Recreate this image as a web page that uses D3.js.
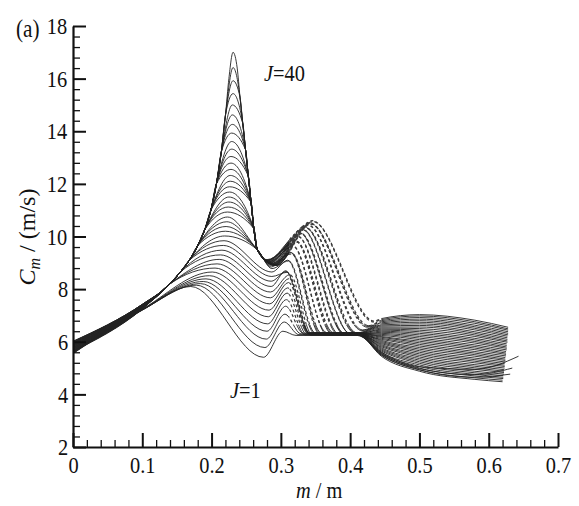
<!DOCTYPE html>
<html>
<head>
<meta charset="utf-8">
<script src="https://cdn.jsdelivr.net/npm/d3@7"></script>
<style>
  body { margin: 0; background: #fff; }
  svg text { font-family: "Liberation Serif", "DejaVu Serif", serif; fill: #111; }
  .tick text { transform-box: fill-box; transform-origin: center; transform: scaleX(0.85); }
</style>
</head>
<body>
<div id="chart_area"></div>
<script>
// curves J = 1 .. 40, every array below is indexed by J-1
const startY = [5.55, 5.56, 5.57, 5.59, 5.60, 5.61, 5.62, 5.63, 5.65, 5.66,
  5.67, 5.68, 5.70, 5.71, 5.72, 5.73, 5.74, 5.76, 5.77, 5.78,
  5.79, 5.80, 5.82, 5.83, 5.84, 5.85, 5.87, 5.88, 5.89, 5.90,
  5.91, 5.93, 5.94, 5.95, 5.96, 5.97, 5.99, 6.00, 6.01, 6.02];
const y10 = [7.20, 7.21, 7.21, 7.22, 7.22, 7.23, 7.24, 7.24, 7.25, 7.25,
  7.26, 7.27, 7.27, 7.28, 7.28, 7.29, 7.30, 7.30, 7.31, 7.31,
  7.32, 7.33, 7.33, 7.34, 7.34, 7.35, 7.36, 7.36, 7.37, 7.37,
  7.38, 7.39, 7.39, 7.40, 7.40, 7.41, 7.41, 7.42, 7.42, 7.42];
const peakX = [0.170, 0.178, 0.184, 0.188, 0.192, 0.197, 0.201, 0.205, 0.208, 0.211,
  0.213, 0.215, 0.217, 0.218, 0.219, 0.220, 0.221, 0.222, 0.223, 0.223,
  0.224, 0.225, 0.225, 0.226, 0.226, 0.227, 0.227, 0.228, 0.228, 0.228,
  0.229, 0.229, 0.229, 0.230, 0.230, 0.230, 0.231, 0.231, 0.231, 0.231];
const peakY = [8.10, 8.15, 8.21, 8.29, 8.39, 8.51, 8.65, 8.80, 8.96, 9.13,
  9.30, 9.48, 9.66, 9.84, 10.02, 10.20, 10.38, 10.56, 10.74, 10.93,
  11.12, 11.31, 11.50, 11.69, 11.89, 12.10, 12.32, 12.55, 12.79, 13.04,
  13.32, 13.61, 13.93, 14.26, 14.62, 15.00, 15.43, 15.92, 16.42, 17.00];
const troughX = [0.275, 0.277, 0.279, 0.280, 0.281, 0.282, 0.283, 0.284, 0.285, 0.285,
  0.286, 0.286, 0.287, 0.287, 0.287, 0.286, 0.285, 0.284, 0.283, 0.282,
  0.281, 0.280, 0.280, 0.281, 0.282, 0.283, 0.284, 0.285, 0.286, 0.287,
  0.288, 0.289, 0.290, 0.290, 0.291, 0.291, 0.292, 0.292, 0.293, 0.293];
const troughY = [5.41, 5.78, 6.10, 6.40, 6.68, 6.95, 7.20, 7.44, 7.67, 7.89,
  8.10, 8.30, 8.48, 8.65, 8.78, 8.84, 8.90, 8.95, 9.00, 9.04,
  9.08, 9.10, 9.12, 9.10, 9.08, 9.06, 9.04, 9.02, 9.00, 8.98,
  8.96, 8.95, 8.94, 8.93, 8.92, 8.91, 8.90, 8.90, 8.90, 8.90];
// second hump (the dashed arches)
const hump2X = [0.303, 0.305, 0.306, 0.307, 0.308, 0.309, 0.310, 0.311, 0.312, 0.313,
  0.307, 0.308, 0.309, 0.310, 0.311, 0.314, 0.315, 0.316, 0.317, 0.318,
  0.321, 0.322, 0.323, 0.324, 0.325, 0.327, 0.328, 0.329, 0.331, 0.332,
  0.334, 0.335, 0.336, 0.338, 0.339, 0.341, 0.342, 0.343, 0.345, 0.346];
const hump2Y = [6.40, 6.75, 7.05, 7.35, 7.60, 7.85, 8.05, 8.25, 8.40, 8.55,
  8.70, 8.67, 8.64, 9.10, 9.07, 9.40, 9.37, 9.34, 9.65, 9.62,
  9.85, 9.82, 9.79, 10.02, 9.99, 10.16, 10.13, 10.10, 10.28, 10.25,
  10.38, 10.35, 10.32, 10.46, 10.43, 10.53, 10.50, 10.47, 10.60, 10.57];
const landX = [0.322, 0.326, 0.329, 0.332, 0.335, 0.337, 0.339, 0.341, 0.343, 0.345,
  0.340, 0.341, 0.342, 0.349, 0.350, 0.357, 0.358, 0.359, 0.366, 0.367,
  0.374, 0.375, 0.376, 0.383, 0.384, 0.391, 0.392, 0.393, 0.400, 0.401,
  0.408, 0.409, 0.410, 0.417, 0.418, 0.425, 0.426, 0.427, 0.434, 0.435];
const landY = [6.24, 6.27, 6.30, 6.33, 6.26, 6.29, 6.32, 6.35, 6.25, 6.28,
  6.31, 6.34, 6.27, 6.30, 6.33, 6.26, 6.29, 6.32, 6.35, 6.25,
  6.28, 6.31, 6.34, 6.27, 6.30, 6.33, 6.26, 6.29, 6.32, 6.28,
  6.30, 6.32, 6.34, 6.42, 6.45, 6.55, 6.58, 6.61, 6.75, 6.78];
const flatEndX = 0.41;
const tailX = [0.445, 0.50, 0.58];
const tailA = [5.60, 5.55, 5.50, 5.45, 5.49, 5.53, 5.57, 5.61, 5.65, 5.69,
  5.73, 5.77, 5.81, 5.85, 5.89, 5.93, 5.97, 6.01, 6.05, 6.09,
  6.13, 6.17, 6.20, 6.24, 6.28, 6.32, 6.36, 6.40, 6.44, 6.48,
  6.52, 6.56, 6.60, 6.64, 6.68, 6.72, 6.76, 6.80, 6.84, 6.88];
const tailB = [5.05, 4.98, 4.93, 4.88, 4.94, 5.00, 5.06, 5.12, 5.18, 5.24,
  5.30, 5.36, 5.42, 5.48, 5.54, 5.60, 5.66, 5.72, 5.78, 5.84,
  5.90, 5.96, 6.02, 6.08, 6.14, 6.20, 6.26, 6.32, 6.38, 6.44,
  6.50, 6.56, 6.62, 6.68, 6.74, 6.80, 6.86, 6.92, 6.98, 7.03];
const tailC = [4.95, 4.75, 4.65, 4.57, 4.63, 4.70, 4.76, 4.82, 4.88, 4.95,
  5.01, 5.07, 5.13, 5.20, 5.26, 5.32, 5.38, 5.45, 5.51, 5.57,
  5.63, 5.70, 5.76, 5.82, 5.88, 5.95, 6.01, 6.07, 6.13, 6.20,
  6.26, 6.32, 6.38, 6.45, 6.51, 6.57, 6.63, 6.70, 6.76, 6.82];
const endX = [0.643, 0.634, 0.631, 0.620, 0.620, 0.621, 0.621, 0.621, 0.622, 0.622,
  0.622, 0.622, 0.623, 0.623, 0.623, 0.623, 0.624, 0.624, 0.624, 0.624,
  0.625, 0.625, 0.625, 0.625, 0.626, 0.626, 0.626, 0.626, 0.626, 0.627,
  0.627, 0.627, 0.627, 0.627, 0.628, 0.628, 0.628, 0.628, 0.628, 0.628];
const endY = [5.45, 5.00, 4.77, 4.48, 4.54, 4.60, 4.65, 4.71, 4.77, 4.83,
  4.88, 4.94, 5.00, 5.06, 5.11, 5.17, 5.23, 5.29, 5.34, 5.40,
  5.46, 5.52, 5.57, 5.63, 5.69, 5.75, 5.80, 5.86, 5.92, 5.98,
  6.03, 6.09, 6.15, 6.21, 6.26, 6.32, 6.38, 6.44, 6.49, 6.55];
// shared rising edge (left of the spike) and falling edge (right of the spike)
const envX = [0.14, 0.155, 0.168, 0.18, 0.19, 0.199, 0.207, 0.214, 0.22, 0.225];
const envY = [8.2, 8.65, 9.1, 9.65, 10.25, 11.0, 12.0, 13.2, 14.6, 16.0];
const rightX = [0.237, 0.241, 0.245, 0.249, 0.253, 0.257, 0.261, 0.266];
const rightY = [16.4, 15.3, 14.3, 13.3, 12.3, 11.3, 10.3, 9.5];

const yMajor = [2, 4, 6, 8, 10, 12, 14, 16, 18];
const xMajor = [0, 0.1, 0.2, 0.3, 0.4, 0.5, 0.6, 0.7];

const svgWidth = 579;
const svgHeight = 506;
const margin = { top: 26, right: 21, bottom: 59, left: 73 };
const width = svgWidth - margin.left - margin.right;
const height = svgHeight - margin.top - margin.bottom;

const svg = d3.select('#chart_area').append('svg')
  .attr('width', svgWidth).attr('height', svgHeight);
const g = svg.append('g')
  .attr('transform', 'translate(' + margin.left + ',' + margin.top + ')');

const x = d3.scaleLinear().domain([0, 0.7]).range([0, width]);
const y = d3.scaleLinear().domain([2, 18]).range([height, 0]);

// region where the arches look dashed
const dashBox = { x0: x(0.312), x1: x(0.445), y0: y(11.5), y1: y(6.65) };
const defs = svg.append('defs');
defs.append('clipPath').attr('id', 'clipDash')
  .append('rect')
  .attr('x', dashBox.x0).attr('y', dashBox.y0)
  .attr('width', dashBox.x1 - dashBox.x0).attr('height', dashBox.y1 - dashBox.y0);
defs.append('clipPath').attr('id', 'clipSolid')
  .append('path')
  .attr('clip-rule', 'evenodd')
  .attr('d', `M-50,-50H${width + 50}V${height + 50}H-50Z M${dashBox.x0},${dashBox.y0}H${dashBox.x1}V${dashBox.y1}H${dashBox.x0}Z`);

function curvePoints(i) {
  const pts = [[0, startY[i]], [0.10, y10[i]]];
  envX.forEach((ex, k) => {
    if (ex < peakX[i] - 0.004 && envY[k] < peakY[i] - 0.5) pts.push([ex, envY[k]]);
  });
  pts.push([peakX[i], peakY[i]]);
  rightX.forEach((rx, k) => {
    if (rx > peakX[i] + 0.004 && rightY[k] < peakY[i] - 0.5) pts.push([rx, rightY[k]]);
  });
  pts.push([troughX[i], troughY[i]]);
  pts.push([hump2X[i], hump2Y[i]]);
  pts.push([landX[i], landY[i]]);
  if (landX[i] < flatEndX - 0.005) pts.push([flatEndX, landY[i]]);
  [tailA, tailB, tailC].forEach((arr, k) => pts.push([tailX[k], arr[i]]));
  pts.push([endX[i], endY[i]]);
  return pts;
}

const line = d3.line()
  .x((d) => x(d[0]))
  .y((d) => y(d[1]))
  .curve(d3.curveMonotoneX);

const curves = startY.map((_, i) => curvePoints(i));

const solid = g.append('g').attr('clip-path', 'url(#clipSolid)');
const dashed = g.append('g').attr('clip-path', 'url(#clipDash)');
curves.forEach((pts) => {
  solid.append('path')
    .attr('d', line(pts))
    .attr('fill', 'none')
    .attr('stroke', '#222')
    .attr('stroke-width', 0.9);
  dashed.append('path')
    .attr('d', line(pts))
    .attr('fill', 'none')
    .attr('stroke', '#3a3a3a')
    .attr('stroke-width', 1.2)
    .attr('stroke-dasharray', '3,2.5');
});

// axes, ticks inside
const yMinor = d3.range(2, 18.001, 0.4).filter((v) => Math.abs(v / 2 - Math.round(v / 2)) > 0.01);
const xMinor = d3.range(0, 0.7001, 0.02).filter((v) => Math.abs(v * 10 - Math.round(v * 10)) > 0.01);

g.append('g')
  .call(d3.axisLeft(y).tickValues(yMinor).tickSize(-7).tickFormat(''))
  .call((s) => s.select('.domain').remove())
  .selectAll('line').attr('stroke', '#111').attr('stroke-width', 1.3);
g.append('g')
  .attr('transform', 'translate(0,' + height + ')')
  .call(d3.axisBottom(x).tickValues(xMinor).tickSize(-7).tickFormat(''))
  .call((s) => s.select('.domain').remove())
  .selectAll('line').attr('stroke', '#111').attr('stroke-width', 1.3);

const yAxis = g.append('g')
  .call(d3.axisLeft(y).tickValues(yMajor).tickSize(-13).tickSizeOuter(0).tickPadding(4).tickFormat(d3.format('d')));
const xAxis = g.append('g')
  .attr('transform', 'translate(0,' + height + ')')
  .call(d3.axisBottom(x).tickValues(xMajor).tickSize(-14).tickSizeOuter(0).tickPadding(9)
    .tickFormat((d) => (d === 0 ? '0' : d3.format('.1f')(d))));
[yAxis, xAxis].forEach((a) => {
  a.select('.domain').attr('stroke', '#111').attr('stroke-width', 2.2);
  a.selectAll('.tick line').attr('stroke', '#111').attr('stroke-width', 2);
  a.selectAll('.tick text').attr('font-size', 24).attr('fill', '#111');
});

// labels
function label(px, py, parts, size) {
  const t = svg.append('g')
    .attr('transform', `translate(${px},${py}) scale(0.85,1)`)
    .append('text')
    .attr('font-size', size);
  parts.forEach((p) => {
    t.append('tspan').attr('font-style', p[1] ? 'italic' : 'normal').text(p[0]);
  });
  return t;
}
label(16, 37, [['(a)', false]], 25);
label(264, 81, [['J', true], ['=40', false]], 24);
label(230, 398, [['J', true], ['=1', false]], 24);
label(296, 498, [['m', true], [' / m', false]], 24);

const yTitle = svg.append('text')
  .attr('transform', 'translate(35,237) rotate(-90)')
  .attr('text-anchor', 'middle')
  .attr('font-size', 24);
yTitle.append('tspan').attr('font-style', 'italic').text('C');
yTitle.append('tspan').attr('font-style', 'italic').attr('font-size', 16).attr('dy', 5).text('m');
yTitle.append('tspan').attr('dy', -5).text(' / (m/s)');
</script>
</body>
</html>
